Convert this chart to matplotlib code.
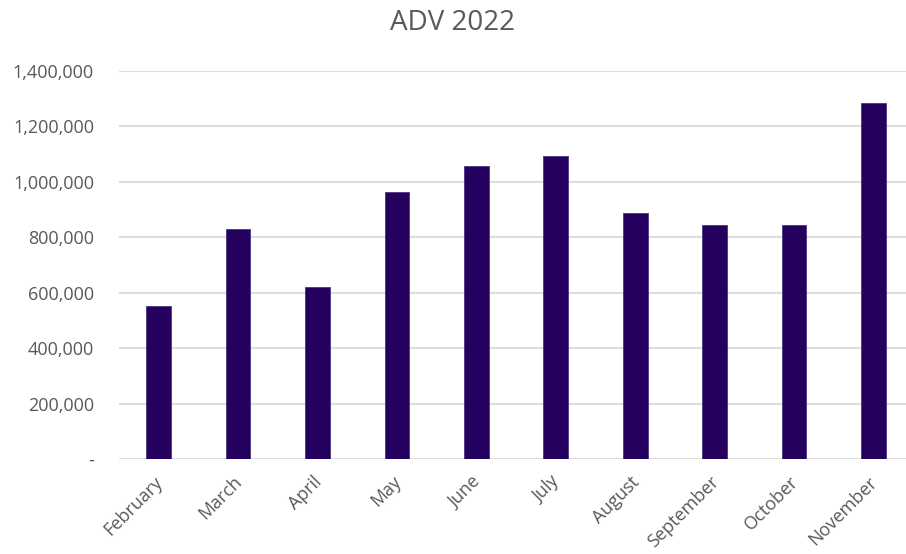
import matplotlib.pyplot as plt
import matplotlib.transforms as mtransforms
from matplotlib.ticker import FuncFormatter

# ADV 2022 data
months = ['February', 'March', 'April', 'May', 'June', 'July',
          'August', 'September', 'October', 'November']
adv = [552000, 830000, 621000, 963000, 1057000, 1093000,
       888000, 844000, 845000, 1285000]
yticks = [0, 200000, 400000, 600000, 800000, 1000000, 1200000, 1400000]

plt.rcParams['font.family'] = ['Open Sans', 'DejaVu Sans']
grey = '#595959'

fig = plt.figure(figsize=(9.06, 5.54), dpi=100)
ax = fig.add_axes([119 / 906, 95 / 554, 1 - 119 / 906, 388 / 554])

x = range(len(months))
ax.bar(x, adv, width=0.31, color='#24005F', edgecolor='#4a3580',
       linewidth=0.6, zorder=3)

ax.set_xlim(-0.5, 9.41)
ax.set_ylim(0, 1400000)
ax.set_yticks(yticks)
ax.yaxis.set_major_formatter(FuncFormatter(lambda v, p: '-' if v == 0 else f'{int(v):,}'))
ax.grid(axis='y', color='#dddddd', linewidth=1.5, zorder=0)

for s in ax.spines.values():
    s.set_visible(False)

ax.tick_params(axis='y', length=0, pad=18, labelsize=13, labelcolor=grey)
ax.tick_params(axis='x', length=0, pad=10, labelsize=13, labelcolor=grey)
ax.set_xticks(list(x))
ax.set_xticklabels(months, rotation=45, ha='right', rotation_mode='anchor')

# nudge rotated month labels a little to the left
shift = mtransforms.ScaledTranslation(-5 / 100, 0, fig.dpi_scale_trans)
for lbl in ax.get_xticklabels():
    lbl.set_transform(lbl.get_transform() + shift)

fig.text(0.5, 1 - 23 / 554, 'ADV 2022', ha='center', va='center',
         fontsize=20, color=grey)

fig.savefig('out.png', dpi=100)
